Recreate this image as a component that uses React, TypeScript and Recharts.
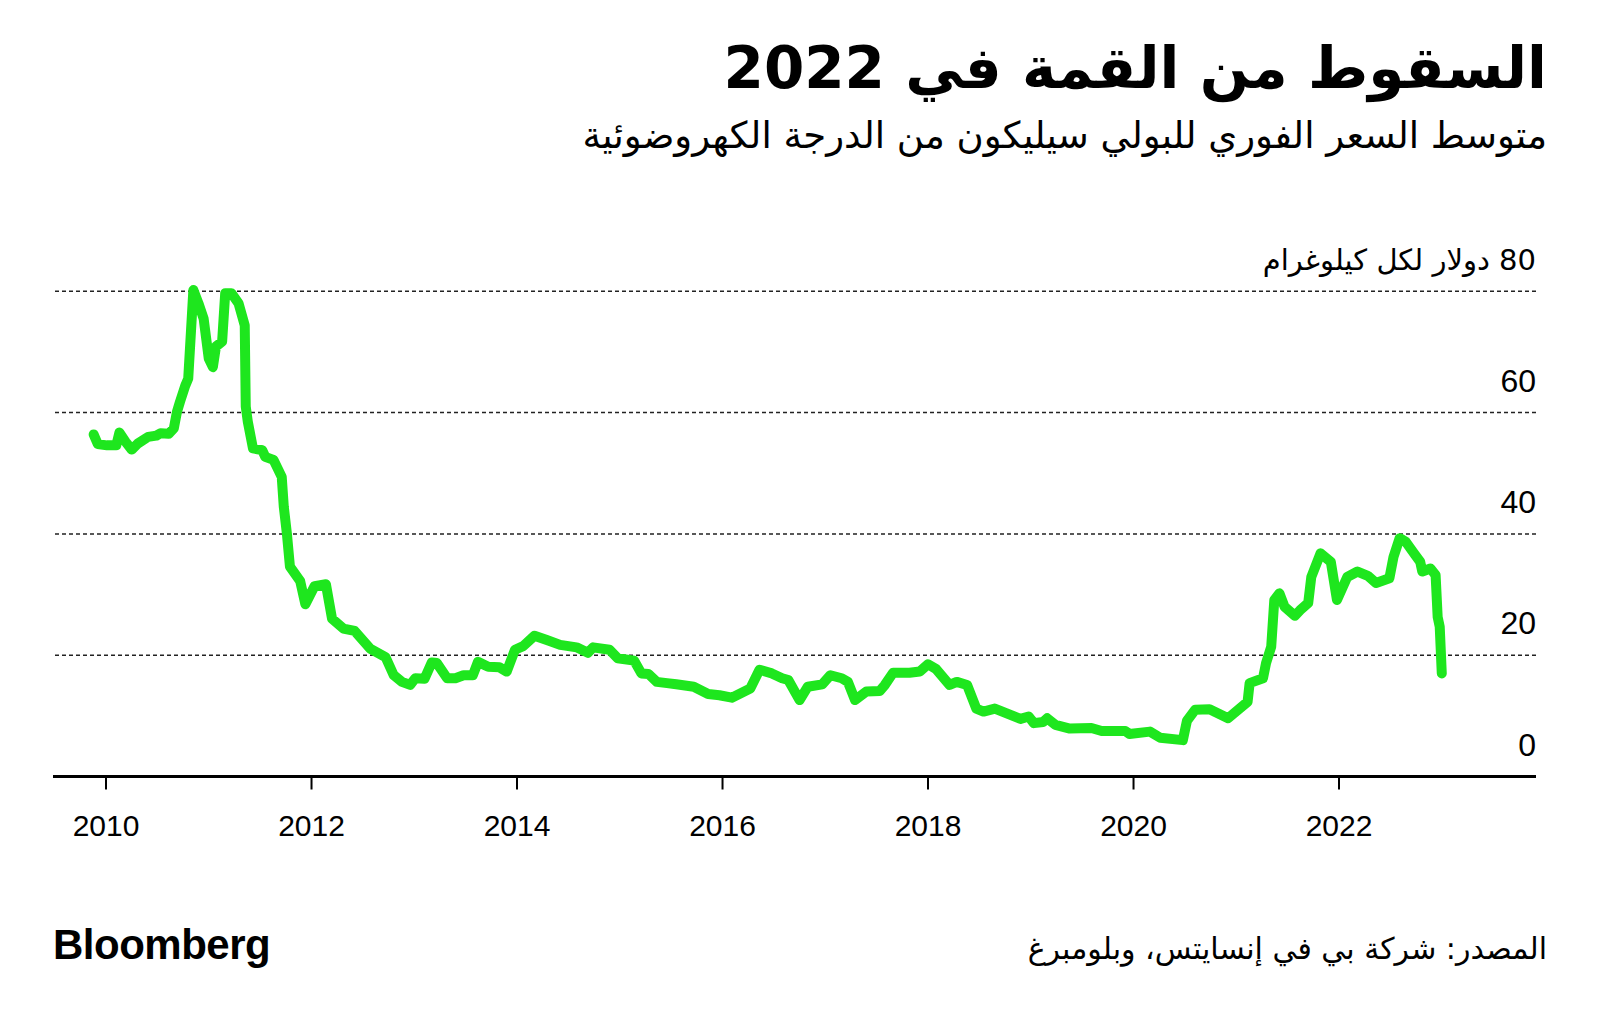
import { LineChart, Line, XAxis, YAxis, ReferenceLine } from 'recharts';

// decimal year of each reading, and the spot price in US$/kg
const years = [
  2009.88, 2009.92, 2010.01, 2010.10, 2010.13, 2010.19, 2010.25, 2010.31, 2010.41, 2010.49,
  2010.53, 2010.61, 2010.66, 2010.69, 2010.72, 2010.77, 2010.80, 2010.85, 2010.90, 2010.95,
  2011.00, 2011.04, 2011.07, 2011.13, 2011.16, 2011.22, 2011.29, 2011.35, 2011.36, 2011.38,
  2011.43, 2011.52, 2011.55, 2011.63, 2011.71, 2011.73, 2011.76, 2011.79, 2011.89, 2011.94,
  2012.03, 2012.14, 2012.20, 2012.31, 2012.42, 2012.57, 2012.72, 2012.80, 2012.88, 2012.96,
  2013.01, 2013.10, 2013.17, 2013.22, 2013.32, 2013.40, 2013.48, 2013.57, 2013.62, 2013.72,
  2013.83, 2013.90, 2013.98, 2014.06, 2014.17, 2014.29, 2014.42, 2014.58, 2014.69, 2014.74,
  2014.90, 2014.98, 2015.14, 2015.21, 2015.28, 2015.36, 2015.46, 2015.55, 2015.72, 2015.86,
  2015.97, 2016.09, 2016.27, 2016.36, 2016.48, 2016.58, 2016.64, 2016.75, 2016.83, 2016.97,
  2017.05, 2017.16, 2017.22, 2017.29, 2017.40, 2017.53, 2017.58, 2017.66, 2017.82, 2017.92,
  2018.00, 2018.08, 2018.21, 2018.28, 2018.38, 2018.47, 2018.54, 2018.65, 2018.90, 2018.98,
  2019.03, 2019.12, 2019.16, 2019.24, 2019.38, 2019.59, 2019.69, 2019.92, 2019.96, 2020.16,
  2020.26, 2020.48, 2020.52, 2020.60, 2020.74, 2020.92, 2021.11, 2021.13, 2021.26, 2021.29,
  2021.34, 2021.37, 2021.42, 2021.47, 2021.57, 2021.62, 2021.70, 2021.73, 2021.82, 2021.92,
  2021.98, 2022.08, 2022.18, 2022.28, 2022.36, 2022.49, 2022.53, 2022.59, 2022.65, 2022.73,
  2022.79, 2022.81, 2022.89, 2022.94, 2022.96, 2022.98, 2023.00,
];

const prices = [
  56.4, 54.8, 54.6, 54.6, 56.7, 55.2, 53.9, 54.9, 56.0, 56.2,
  56.6, 56.5, 57.4, 60.1, 61.8, 64.4, 65.6, 80.2, 78.0, 75.5,
  68.9, 67.5, 70.9, 71.7, 79.7, 79.7, 78.0, 74.4, 61.0, 58.5,
  54.1, 53.8, 52.7, 52.2, 49.4, 44.5, 40.1, 34.6, 32.2, 28.4,
  31.4, 31.7, 26.0, 24.4, 24.0, 21.1, 19.7, 16.7, 15.6, 15.1,
  16.2, 16.1, 18.8, 18.7, 16.2, 16.2, 16.7, 16.7, 18.9, 18.1,
  18.0, 17.3, 20.9, 21.5, 23.2, 22.5, 21.7, 21.3, 20.4, 21.3,
  20.9, 19.5, 19.1, 17.0, 16.9, 15.6, 15.4, 15.2, 14.8, 13.6,
  13.4, 13.0, 14.5, 17.6, 17.0, 16.2, 15.9, 12.6, 14.8, 15.2,
  16.7, 16.2, 15.6, 12.6, 14.0, 14.1, 15.1, 17.1, 17.1, 17.3,
  18.5, 17.7, 15.1, 15.6, 15.1, 11.2, 10.7, 11.2, 9.5, 9.9,
  8.8, 9.0, 9.6, 8.5, 7.9, 8.0, 7.5, 7.5, 7.0, 7.4,
  6.4, 6.0, 9.2, 11.0, 11.1, 9.6, 12.3, 15.4, 16.2, 18.7,
  21.4, 29.1, 30.2, 28.0, 26.5, 27.4, 28.6, 32.9, 36.8, 35.4,
  29.1, 32.9, 33.8, 33.1, 31.9, 32.7, 36.2, 39.3, 38.7, 36.8,
  35.4, 33.8, 34.3, 33.2, 26.3, 24.7, 17.0,
];

const xTicks = [2010, 2012, 2014, 2016, 2018, 2020, 2022];
const yTicks = [0, 20, 40, 60, 80];
const gridValues = [20, 40, 60, 80];
const unitLabel = 'دولار لكل كيلوغرام';

const data = years.map((year, i) => ({ year, price: prices[i] }));

const W = 1600;
const H = 1024;
const arabicFont = "'DejaVu Sans', sans-serif";
const latinFont = "'Liberation Sans', Arial, sans-serif";

// y labels sit right-aligned above their gridline
function PriceTick({ x, y, payload }: any) {
  if (payload.value === 80) {
    return (
      <text x={x} y={y - 21} direction="rtl" textAnchor="start" fontSize={29} fill="#000" fontFamily={arabicFont}>
        {`${payload.value} ${unitLabel}`}
      </text>
    );
  }
  return (
    <text x={x} y={y - 21} textAnchor="end" fontSize={32} fill="#000" fontFamily={latinFont}>
      {payload.value}
    </text>
  );
}

export default function App() {
  return (
    <div style={{ position: 'absolute', left: 0, top: 0, width: W, height: H, background: '#fff', overflow: 'hidden' }}>
      <div dir="rtl" style={{ position: 'absolute', right: 53, top: 28, fontFamily: arabicFont, fontWeight: 700, fontSize: 58, lineHeight: '80px', color: '#000' }}>
        السقوط من القمة في 2022
      </div>
      <div dir="rtl" style={{ position: 'absolute', right: 53, top: 112, fontFamily: arabicFont, fontSize: 37, lineHeight: '48px', color: '#000' }}>
        متوسط السعر الفوري للبولي سيليكون من الدرجة الكهروضوئية
      </div>
      <LineChart
        width={W}
        height={H}
        data={data}
        margin={{ top: 261, right: 63, bottom: 187.5, left: 53 }}
        style={{ position: 'absolute', left: 0, top: 0 }}
      >
        <XAxis
          dataKey="year"
          type="number"
          domain={[2009.484, 2023.917]}
          ticks={xTicks}
          height={60}
          stroke="#000"
          axisLine={{ stroke: '#000', strokeWidth: 3 }}
          tickLine={{ stroke: '#000', strokeWidth: 2 }}
          tickSize={13}
          tickMargin={25}
          tick={{ fontSize: 30, fill: '#000', fontFamily: latinFont }}
          allowDataOverflow
        />
        <YAxis
          orientation="right"
          type="number"
          domain={[0, 85]}
          ticks={yTicks}
          width={1}
          axisLine={false}
          tickLine={false}
          tickSize={0}
          tickMargin={0}
          tick={<PriceTick />}
          interval={0}
          allowDataOverflow
        />
        {gridValues.map((v) => (
          <ReferenceLine key={v} y={v} stroke="#222" strokeDasharray="4 3" strokeWidth={1.5} />
        ))}
        <Line
          type="linear"
          dataKey="price"
          stroke="#1ee61e"
          strokeWidth={10}
          strokeLinejoin="round"
          strokeLinecap="round"
          dot={false}
          activeDot={false}
          isAnimationActive={false}
        />
      </LineChart>
      <div style={{ position: 'absolute', left: 53, top: 924, fontFamily: latinFont, fontWeight: 700, fontSize: 42, lineHeight: '42px', letterSpacing: -0.5, color: '#000' }}>
        Bloomberg
      </div>
      <div dir="rtl" style={{ position: 'absolute', right: 53, top: 929, fontFamily: arabicFont, fontSize: 30, lineHeight: '40px', color: '#000' }}>
        المصدر: شركة بي في إنسايتس، وبلومبرغ
      </div>
    </div>
  );
}
